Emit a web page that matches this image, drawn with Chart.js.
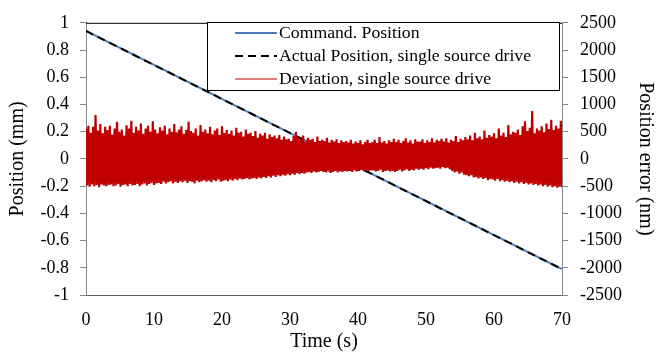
<!DOCTYPE html>
<html>
<head>
<meta charset="utf-8">
<script src="https://cdn.jsdelivr.net/npm/chart.js@4/dist/chart.umd.min.js"></script>
<style>
  html, body { margin: 0; padding: 0; background: #fff; }
  #wrap { width: 657px; height: 354px; position: relative; }
</style>
</head>
<body>
<div id="wrap"><canvas id="c" width="657" height="354"></canvas></div>
<script>
// Commanded and measured stage position (mm), linear ramp over the run
const cmdTime = [0, 70];
const cmdPos = [0.94, -0.81];
const actTime = [0, 70];
const actPos = [0.94, -0.81];

// Following error (nm): alternating local maxima and minima of the trace
const devPeaks = [
  560, 610, 480, 590, 805, 520, 640, 470, 590, 530,
  610, 450, 560, 680, 500, 540, 430, 620, 560, 700,
  480, 590, 520, 650, 460, 560, 610, 500, 690, 540,
  470, 580, 520, 610, 450, 560, 500, 640, 490, 540,
  600, 460, 530, 680, 510, 480, 560, 430, 620, 500,
  540, 470, 590, 450, 520, 560, 440, 600, 480, 530,
  460, 520, 430, 570, 480, 500, 410, 540, 460, 480,
  420, 510, 390, 460, 430, 480, 370, 450, 400, 430,
  380, 440, 350, 410, 360, 370, 330, 420, 500, 400,
  360, 430, 320, 390, 350, 370, 310, 410, 330, 350,
  330, 390, 300, 350, 320, 360, 290, 340, 310, 330,
  300, 350, 280, 320, 290, 340, 270, 310, 350, 290,
  310, 350, 290, 400, 300, 330, 280, 340, 310, 370,
  310, 350, 290, 330, 380, 300, 340, 280, 360, 320,
  320, 360, 290, 340, 310, 380, 300, 350, 330, 370,
  320, 380, 300, 350, 330, 420, 310, 370, 340, 400,
  360, 430, 340, 480, 380, 410, 360, 520, 390, 440,
  410, 470, 380, 560, 430, 480, 400, 620, 450, 500,
  480, 540, 440, 600, 690, 510, 570, 880, 470, 560,
  520, 600, 490, 650, 550, 720, 530, 610, 560, 700
];
const devTroughs = [
  -490, -510, -470, -500, -480, -520, -470, -490, -500, -480,
  -470, -500, -490, -460, -510, -480, -470, -500, -460, -490,
  -480, -460, -500, -470, -450, -490, -460, -440, -480, -450,
  -440, -460, -420, -450, -430, -410, -450, -420, -440, -410,
  -430, -400, -440, -410, -420, -450, -400, -430, -410, -390,
  -420, -400, -430, -390, -410, -380, -420, -400, -390, -410,
  -380, -400, -370, -390, -360, -380, -370, -350, -380, -360,
  -350, -370, -340, -360, -330, -350, -320, -340, -310, -330,
  -300, -320, -290, -310, -280, -300, -270, -290, -260, -280,
  -260, -270, -250, -240, -260, -230, -250, -240, -220, -240,
  -250, -230, -260, -240, -220, -250, -230, -240, -220, -230,
  -220, -240, -210, -230, -220, -200, -230, -210, -220, -210,
  -210, -230, -220, -200, -240, -220, -210, -230, -220, -240,
  -220, -200, -230, -210, -190, -220, -200, -210, -180, -200,
  -180, -200, -170, -190, -160, -180, -170, -160, -180, -150,
  -170, -160, -190, -220, -250, -230, -270, -250, -290, -300,
  -320, -300, -340, -330, -360, -340, -370, -350, -390, -370,
  -380, -400, -370, -410, -390, -420, -400, -430, -410, -440,
  -420, -450, -430, -460, -440, -470, -450, -480, -460, -490,
  -470, -500, -480, -510, -490, -520, -500, -530, -510, -520
];
const runDuration = 70; // s

// Axis ticks and labels
const xTicks = [0, 10, 20, 30, 40, 50, 60, 70];
const posTicks = [-1, -0.8, -0.6, -0.4, -0.2, 0, 0.2, 0.4, 0.6, 0.8, 1];
const errTicks = [-2500, -2000, -1500, -1000, -500, 0, 500, 1000, 1500, 2000, 2500];

const seriesNames = [
  'Command. Position',
  'Actual Position, single source drive',
  'Deviation, single source drive'
];

// Interleave maxima and minima into one evenly sampled trace
const devCount = devPeaks.length * 2;
const devPoints = [];
for (let i = 0; i < devPeaks.length; i++) {
  devPoints.push({ x: (2 * i) * runDuration / (devCount - 1), y: devPeaks[i] });
  devPoints.push({ x: (2 * i + 1) * runDuration / (devCount - 1), y: devTroughs[i] });
}
const cmdPoints = cmdTime.map((t, i) => ({ x: t, y: cmdPos[i] }));
const actPoints = actTime.map((t, i) => ({ x: t, y: actPos[i] }));

const SERIF = '"Liberation Serif", "Times New Roman", serif';
const BLUE = '#4a7ebb';
const RED = '#c00000';
const DASH = [8, 5];

const legendBox = {
  id: 'legendBox',
  afterDraw(chart) {
    const ctx = chart.ctx;
    const a = chart.chartArea;
    ctx.save();
    // top frame line of the plot area
    ctx.strokeStyle = '#000';
    ctx.lineWidth = 1;
    ctx.beginPath();
    ctx.moveTo(a.left, a.top + 0.5);
    ctx.lineTo(a.right, a.top + 0.5);
    ctx.stroke();

    // legend panel
    const bx = 207.5, by = 22.5, bw = 352, bh = 68;
    ctx.fillStyle = '#fff';
    ctx.fillRect(bx, by, bw, bh);
    ctx.strokeStyle = '#000';
    ctx.strokeRect(bx, by, bw, bh);

    const rows = [33, 56, 79];
    const styles = [
      { color: BLUE, width: 2, dash: [] },
      { color: '#000', width: 2, dash: DASH },
      { color: RED, width: 1, dash: [] }
    ];
    ctx.font = '17.7px ' + SERIF;
    ctx.textBaseline = 'middle';
    ctx.textAlign = 'left';
    rows.forEach((y, i) => {
      const s = styles[i];
      ctx.strokeStyle = s.color;
      ctx.lineWidth = s.width;
      ctx.setLineDash(s.dash);
      ctx.beginPath();
      ctx.moveTo(235, y);
      ctx.lineTo(277, y);
      ctx.stroke();
      ctx.setLineDash([]);
      ctx.fillStyle = '#000';
      ctx.fillText(seriesNames[i], 279, y);
    });
    ctx.restore();
  }
};

new Chart(document.getElementById('c'), {
  type: 'line',
  data: {
    datasets: [
      {
        label: seriesNames[2], data: devPoints, yAxisID: 'y2',
        borderColor: RED, borderWidth: 2.2, pointRadius: 0, order: 0
      },
      {
        label: seriesNames[1], data: actPoints, yAxisID: 'y',
        borderColor: '#000', borderWidth: 2, borderDash: DASH, pointRadius: 0, order: 1
      },
      {
        label: seriesNames[0], data: cmdPoints, yAxisID: 'y',
        borderColor: BLUE, borderWidth: 2, pointRadius: 0, order: 2
      }
    ]
  },
  options: {
    responsive: false,
    animation: false,
    devicePixelRatio: 1,
    parsing: false,
    normalized: true,
    layout: { padding: { top: 20, left: 0, right: 0, bottom: 0 } },
    plugins: { legend: { display: false }, tooltip: { enabled: false } },
    elements: { line: { tension: 0 } },
    scales: {
      x: {
        type: 'linear', min: 0, max: 70,
        afterBuildTicks: s => { s.ticks = xTicks.map(v => ({ value: v })); },
        afterFit: s => { s.height = 59; },
        grid: { display: false, drawTicks: false },
        border: { display: true, color: '#595959', width: 1 },
        ticks: { padding: 14, color: '#000', font: { family: SERIF, size: 18 }, callback: v => String(v) },
        title: { display: true, text: 'Time (s)', color: '#000', padding: { top: 0, bottom: 0 }, font: { family: SERIF, size: 20 } }
      },
      y: {
        position: 'left', min: -1, max: 1,
        afterBuildTicks: s => { s.ticks = posTicks.map(v => ({ value: v })); },
        afterFit: s => { s.width = 86; },
        grid: { drawOnChartArea: false, drawTicks: true, tickLength: 6, color: '#888' },
        border: { display: true, color: '#888', width: 1 },
        ticks: { padding: 11, color: '#000', font: { family: SERIF, size: 18 }, callback: v => String(Math.round(v * 10) / 10) },
        title: { display: true, text: 'Position (mm)', color: '#000', padding: { top: 6, bottom: 0 }, font: { family: SERIF, size: 20 } }
      },
      y2: {
        position: 'right', min: -2500, max: 2500,
        afterBuildTicks: s => { s.ticks = errTicks.map(v => ({ value: v })); },
        afterFit: s => { s.width = 95; },
        grid: { drawOnChartArea: false, drawTicks: true, tickLength: 6, color: '#888' },
        border: { display: true, color: '#888', width: 1 },
        ticks: { padding: 12, color: '#000', font: { family: SERIF, size: 18 }, callback: v => String(v) },
        title: { display: true, text: 'Position error (nm)', color: '#000', padding: { top: 0, bottom: 0 }, font: { family: SERIF, size: 20 } }
      }
    }
  },
  plugins: [legendBox]
});
</script>
</body>
</html>
